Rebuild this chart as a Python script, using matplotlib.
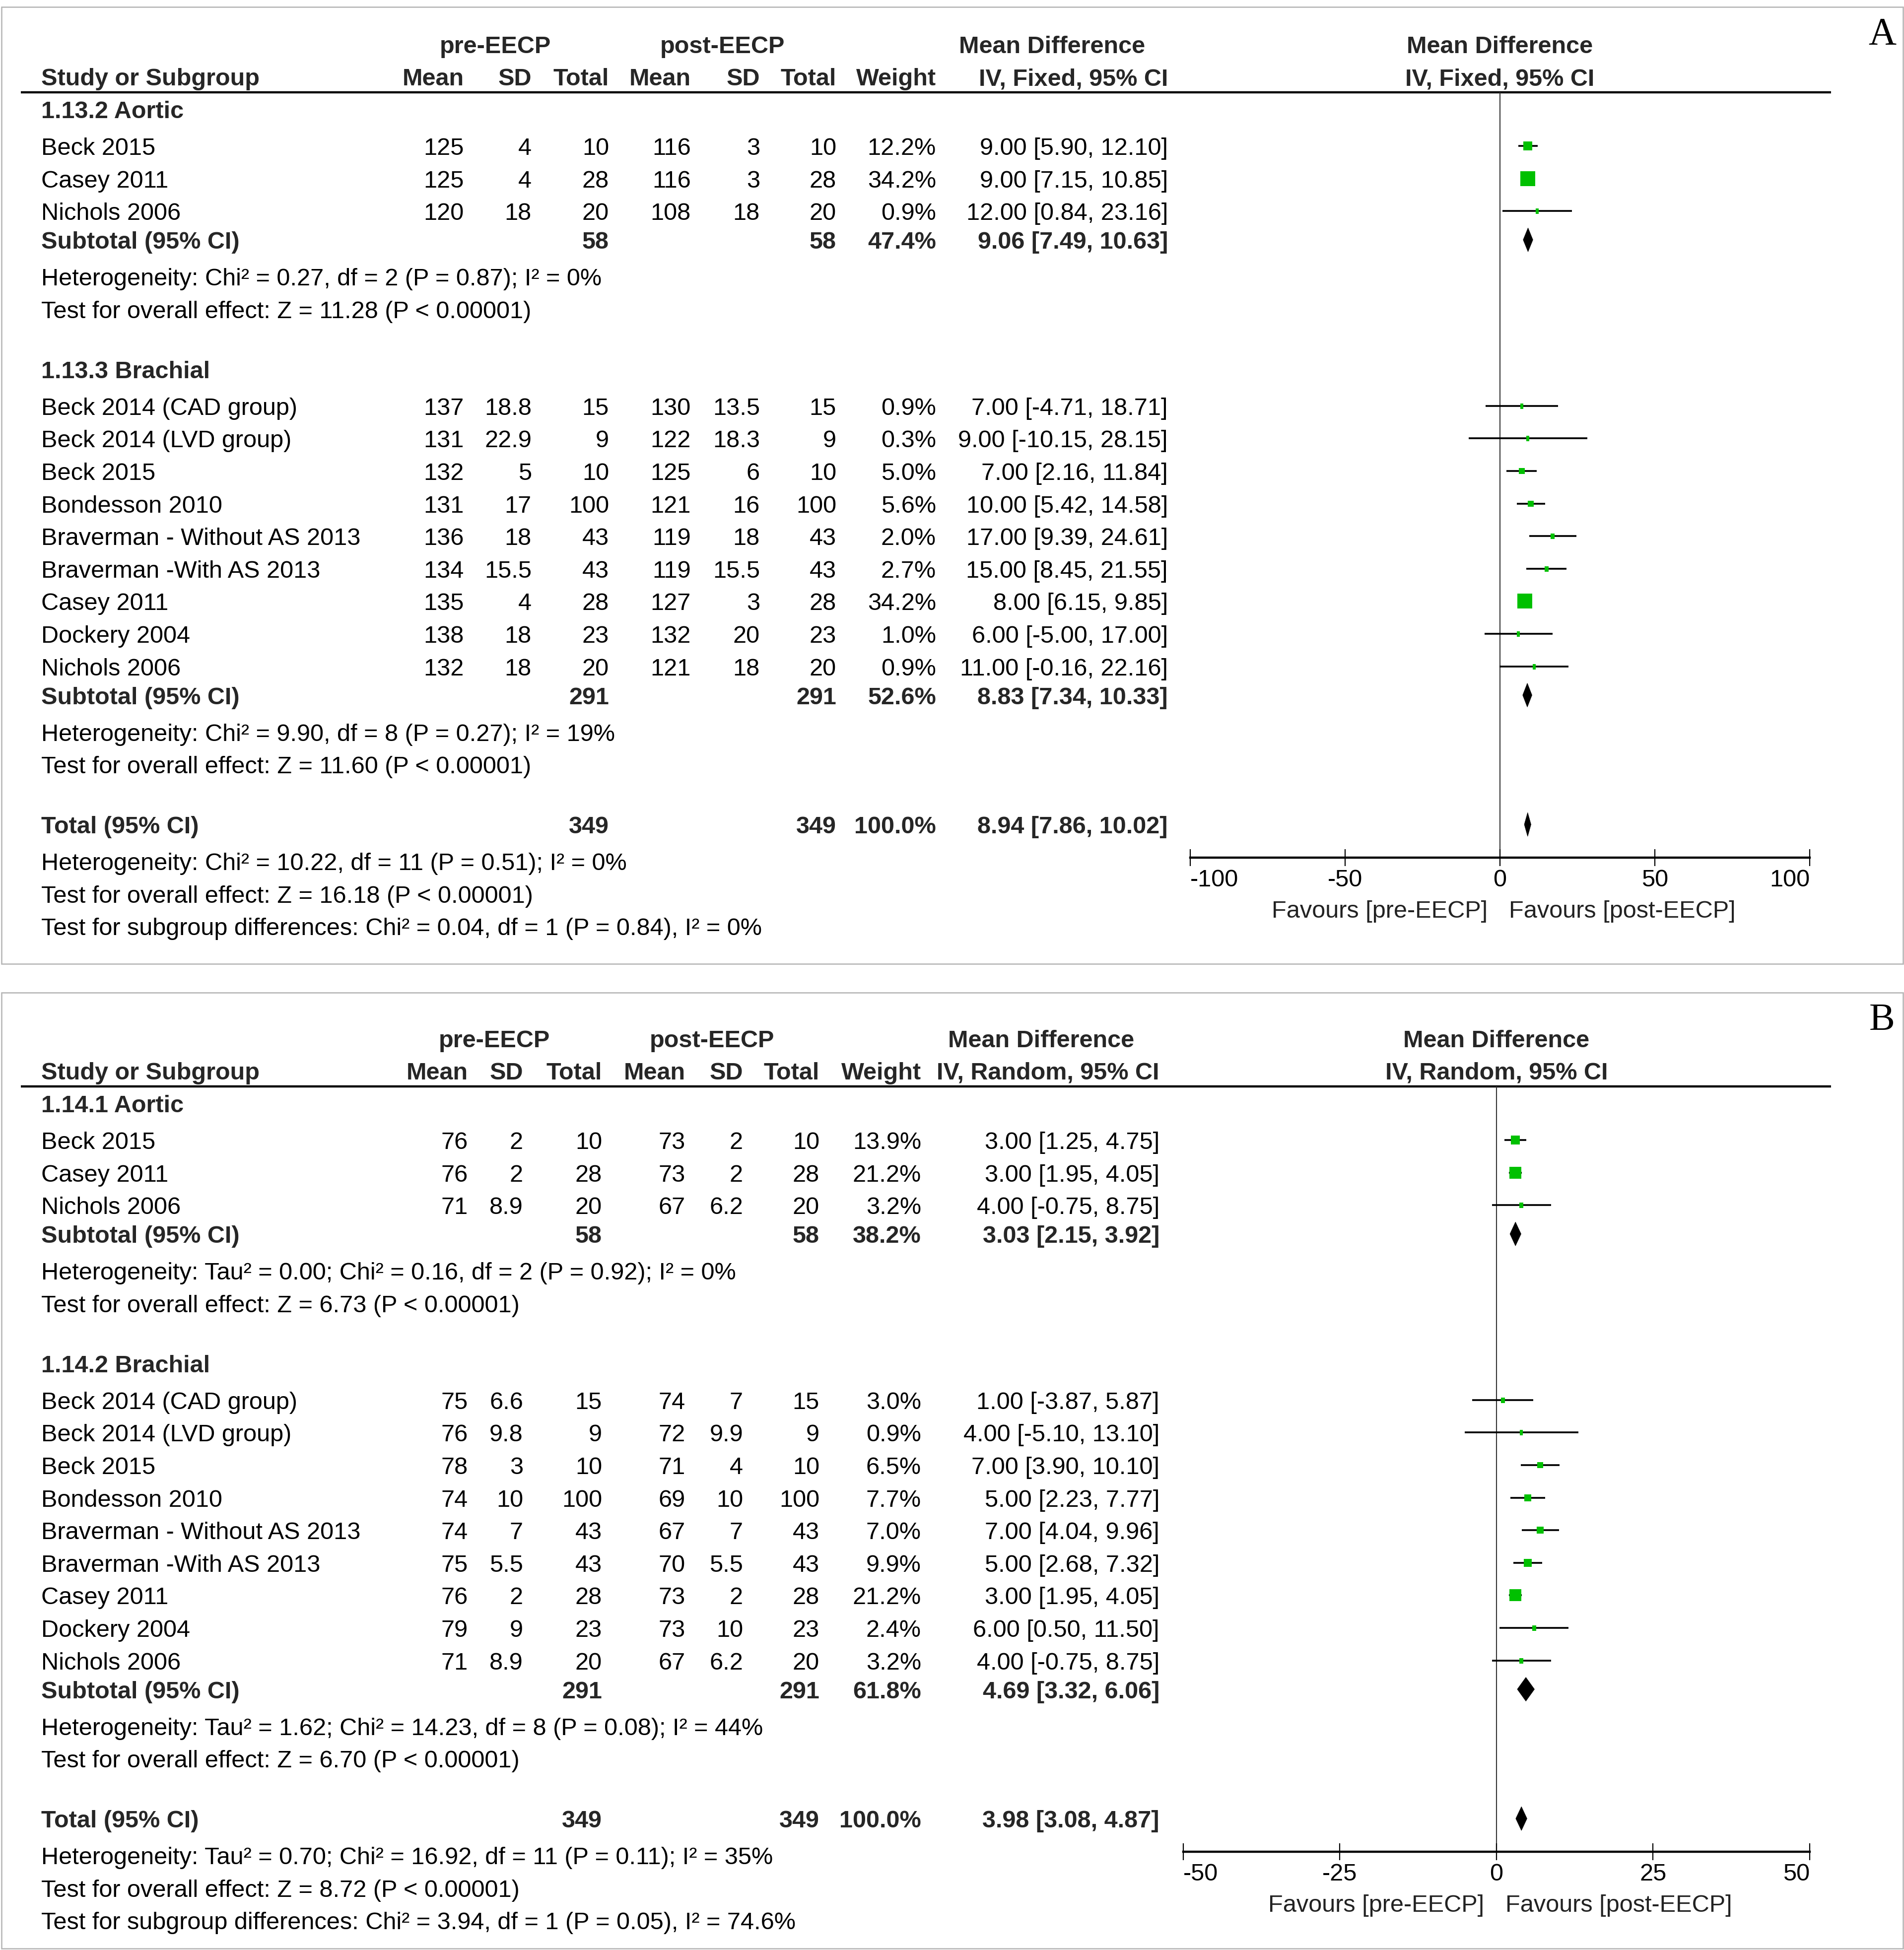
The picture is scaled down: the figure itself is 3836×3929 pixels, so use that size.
import matplotlib
matplotlib.use("Agg")
import matplotlib.pyplot as plt
from matplotlib.patches import Polygon, Rectangle
import numpy as np

plt.rcParams['font.family'] = ['Liberation Sans', 'DejaVu Sans']
plt.rcParams['axes.unicode_minus'] = False

# ======================= DATA =======================
# ---- Panel A (IV, Fixed) ----
A_G1_TITLE = "1.13.2 Aortic"
A_G1_STUDY = ["Beck 2015", "Casey 2011", "Nichols 2006"]
A_G1_PRE_MEAN = [125, 125, 120]
A_G1_PRE_SD = [4, 4, 18]
A_G1_PRE_N = [10, 28, 20]
A_G1_POST_MEAN = [116, 116, 108]
A_G1_POST_SD = [3, 3, 18]
A_G1_POST_N = [10, 28, 20]
A_G1_WEIGHT = [12.2, 34.2, 0.9]
A_G1_MD = [9.00, 9.00, 12.00]
A_G1_LO = [5.90, 7.15, 0.84]
A_G1_HI = [12.10, 10.85, 23.16]
A_G1_SUB = [58, 58, 47.4, 9.06, 7.49, 10.63]
A_G1_HET = "Heterogeneity: Chi\u00b2 = 0.27, df = 2 (P = 0.87); I\u00b2 = 0%"
A_G1_TEST = "Test for overall effect: Z = 11.28 (P < 0.00001)"

A_G2_TITLE = "1.13.3 Brachial"
A_G2_STUDY = ["Beck 2014 (CAD group)", "Beck 2014 (LVD group)", "Beck 2015",
              "Bondesson 2010", "Braverman - Without AS 2013", "Braverman -With AS 2013",
              "Casey 2011", "Dockery 2004", "Nichols 2006"]
A_G2_PRE_MEAN = [137, 131, 132, 131, 136, 134, 135, 138, 132]
A_G2_PRE_SD = [18.8, 22.9, 5, 17, 18, 15.5, 4, 18, 18]
A_G2_PRE_N = [15, 9, 10, 100, 43, 43, 28, 23, 20]
A_G2_POST_MEAN = [130, 122, 125, 121, 119, 119, 127, 132, 121]
A_G2_POST_SD = [13.5, 18.3, 6, 16, 18, 15.5, 3, 20, 18]
A_G2_POST_N = [15, 9, 10, 100, 43, 43, 28, 23, 20]
A_G2_WEIGHT = [0.9, 0.3, 5.0, 5.6, 2.0, 2.7, 34.2, 1.0, 0.9]
A_G2_MD = [7.00, 9.00, 7.00, 10.00, 17.00, 15.00, 8.00, 6.00, 11.00]
A_G2_LO = [-4.71, -10.15, 2.16, 5.42, 9.39, 8.45, 6.15, -5.00, -0.16]
A_G2_HI = [18.71, 28.15, 11.84, 14.58, 24.61, 21.55, 9.85, 17.00, 22.16]
A_G2_SUB = [291, 291, 52.6, 8.83, 7.34, 10.33]
A_G2_HET = "Heterogeneity: Chi\u00b2 = 9.90, df = 8 (P = 0.27); I\u00b2 = 19%"
A_G2_TEST = "Test for overall effect: Z = 11.60 (P < 0.00001)"

A_TOTAL = [349, 349, 100.0, 8.94, 7.86, 10.02]
A_TOTAL_LINES = ["Heterogeneity: Chi\u00b2 = 10.22, df = 11 (P = 0.51); I\u00b2 = 0%",
                 "Test for overall effect: Z = 16.18 (P < 0.00001)",
                 "Test for subgroup differences: Chi\u00b2 = 0.04, df = 1 (P = 0.84), I\u00b2 = 0%"]
A_TICKS = [-100, -50, 0, 50, 100]

# ---- Panel B (IV, Random) ----
B_G1_TITLE = "1.14.1 Aortic"
B_G1_STUDY = ["Beck 2015", "Casey 2011", "Nichols 2006"]
B_G1_PRE_MEAN = [76, 76, 71]
B_G1_PRE_SD = [2, 2, 8.9]
B_G1_PRE_N = [10, 28, 20]
B_G1_POST_MEAN = [73, 73, 67]
B_G1_POST_SD = [2, 2, 6.2]
B_G1_POST_N = [10, 28, 20]
B_G1_WEIGHT = [13.9, 21.2, 3.2]
B_G1_MD = [3.00, 3.00, 4.00]
B_G1_LO = [1.25, 1.95, -0.75]
B_G1_HI = [4.75, 4.05, 8.75]
B_G1_SUB = [58, 58, 38.2, 3.03, 2.15, 3.92]
B_G1_HET = "Heterogeneity: Tau\u00b2 = 0.00; Chi\u00b2 = 0.16, df = 2 (P = 0.92); I\u00b2 = 0%"
B_G1_TEST = "Test for overall effect: Z = 6.73 (P < 0.00001)"

B_G2_TITLE = "1.14.2 Brachial"
B_G2_STUDY = ["Beck 2014 (CAD group)", "Beck 2014 (LVD group)", "Beck 2015",
              "Bondesson 2010", "Braverman - Without AS 2013", "Braverman -With AS 2013",
              "Casey 2011", "Dockery 2004", "Nichols 2006"]
B_G2_PRE_MEAN = [75, 76, 78, 74, 74, 75, 76, 79, 71]
B_G2_PRE_SD = [6.6, 9.8, 3, 10, 7, 5.5, 2, 9, 8.9]
B_G2_PRE_N = [15, 9, 10, 100, 43, 43, 28, 23, 20]
B_G2_POST_MEAN = [74, 72, 71, 69, 67, 70, 73, 73, 67]
B_G2_POST_SD = [7, 9.9, 4, 10, 7, 5.5, 2, 10, 6.2]
B_G2_POST_N = [15, 9, 10, 100, 43, 43, 28, 23, 20]
B_G2_WEIGHT = [3.0, 0.9, 6.5, 7.7, 7.0, 9.9, 21.2, 2.4, 3.2]
B_G2_MD = [1.00, 4.00, 7.00, 5.00, 7.00, 5.00, 3.00, 6.00, 4.00]
B_G2_LO = [-3.87, -5.10, 3.90, 2.23, 4.04, 2.68, 1.95, 0.50, -0.75]
B_G2_HI = [5.87, 13.10, 10.10, 7.77, 9.96, 7.32, 4.05, 11.50, 8.75]
B_G2_SUB = [291, 291, 61.8, 4.69, 3.32, 6.06]
B_G2_HET = "Heterogeneity: Tau\u00b2 = 1.62; Chi\u00b2 = 14.23, df = 8 (P = 0.08); I\u00b2 = 44%"
B_G2_TEST = "Test for overall effect: Z = 6.70 (P < 0.00001)"

B_TOTAL = [349, 349, 100.0, 3.98, 3.08, 4.87]
B_TOTAL_LINES = ["Heterogeneity: Tau\u00b2 = 0.70; Chi\u00b2 = 16.92, df = 11 (P = 0.11); I\u00b2 = 35%",
                 "Test for overall effect: Z = 8.72 (P < 0.00001)",
                 "Test for subgroup differences: Chi\u00b2 = 3.94, df = 1 (P = 0.05), I\u00b2 = 74.6%"]
B_TICKS = [-50, -25, 0, 25, 50]

HEAD_COLS = ["Mean", "SD", "Total", "Mean", "SD", "Total", "Weight"]
FAV_LEFT = "Favours [pre-EECP]"
FAV_RIGHT = "Favours [post-EECP]"


def group(title, study, pm, ps, pn, qm, qs, qn, w, md, lo, hi, sub, het, test):
    return dict(title=title, study=study, pm=pm, ps=ps, pn=pn, qm=qm, qs=qs, qn=qn,
                w=w, md=md, lo=lo, hi=hi, sub=sub, het=het, test=test)


A_GROUPS = [group(A_G1_TITLE, A_G1_STUDY, A_G1_PRE_MEAN, A_G1_PRE_SD, A_G1_PRE_N,
                  A_G1_POST_MEAN, A_G1_POST_SD, A_G1_POST_N, A_G1_WEIGHT, A_G1_MD,
                  A_G1_LO, A_G1_HI, A_G1_SUB, A_G1_HET, A_G1_TEST),
            group(A_G2_TITLE, A_G2_STUDY, A_G2_PRE_MEAN, A_G2_PRE_SD, A_G2_PRE_N,
                  A_G2_POST_MEAN, A_G2_POST_SD, A_G2_POST_N, A_G2_WEIGHT, A_G2_MD,
                  A_G2_LO, A_G2_HI, A_G2_SUB, A_G2_HET, A_G2_TEST)]
B_GROUPS = [group(B_G1_TITLE, B_G1_STUDY, B_G1_PRE_MEAN, B_G1_PRE_SD, B_G1_PRE_N,
                  B_G1_POST_MEAN, B_G1_POST_SD, B_G1_POST_N, B_G1_WEIGHT, B_G1_MD,
                  B_G1_LO, B_G1_HI, B_G1_SUB, B_G1_HET, B_G1_TEST),
            group(B_G2_TITLE, B_G2_STUDY, B_G2_PRE_MEAN, B_G2_PRE_SD, B_G2_PRE_N,
                  B_G2_POST_MEAN, B_G2_POST_SD, B_G2_POST_N, B_G2_WEIGHT, B_G2_MD,
                  B_G2_LO, B_G2_HI, B_G2_SUB, B_G2_HET, B_G2_TEST)]

# ======================= LAYOUT / STYLE =======================
W, H, DPI = 3837, 3930, 100
FS = 35
BOLDC = '#262626'
GREEN = '#00c000'
STEP = 65.6

fig = plt.figure(figsize=(W / DPI, H / DPI), dpi=DPI)
bg = fig.add_axes([0, 0, 1, 1])
bg.set_xlim(0, W)
bg.set_ylim(H, 0)
bg.axis('off')


def T(x, y, s, ha='left', bold=False, size=FS, color=None):
    bg.text(x, y + 17, s, ha=ha, va='baseline', fontsize=size,
            fontweight='bold' if bold else 'normal',
            color=color if color else (BOLDC if bold else 'black'))


def fmt(v):
    return '{:g}'.format(v)


def ci(md, lo, hi):
    return '{:.2f} [{:.2f}, {:.2f}]'.format(md, lo, hi)


def draw_panel(off, box, cols, hc, fx, xlim, ticks, method, groups, total, total_lines, letter):
    # frame
    bg.add_patch(Rectangle((3, box[0]), W - 6, box[1] - box[0], fill=False,
                           ec='#b4b4b4', lw=1.8))
    bg.text(3792, box[0] + 74, letter, ha='center', va='baseline',
            fontsize=56, family=['Liberation Serif', 'DejaVu Serif'])
    y_h1, y_h2, y_rule = off + 90, off + 155, off + 187
    T(hc[0], y_h1, "pre-EECP", ha='center', bold=True)
    T(hc[1], y_h1, "post-EECP", ha='center', bold=True)
    T(hc[2], y_h1, "Mean Difference", ha='center', bold=True)
    T(83, y_h2, "Study or Subgroup", bold=True)
    for x, s in zip(cols[:7], HEAD_COLS):
        T(x, y_h2, s, ha='right', bold=True)
    T(cols[7], y_h2, "IV, %s, 95%% CI" % method, ha='right', bold=True)
    bg.plot([42, 3689], [y_rule, y_rule], color='black', lw=3.2, solid_capstyle='butt')

    # rows layout
    rows = []
    y = off + 221
    for gi, g in enumerate(groups):
        if gi > 0:
            y += 121
        rows.append(('group', y, g))
        y += 74
        for i in range(len(g['study'])):
            if i > 0:
                y += STEP
            rows.append(('study', y, (g, i)))
        y += 58
        rows.append(('sub', y, g['sub']))
        y += 74
        rows.append(('text', y, g['het']))
        y += STEP
        rows.append(('text', y, g['test']))
    y += 121
    rows.append(('total', y, total))
    y_total = y
    y += 74
    for k, s in enumerate(total_lines):
        if k > 0:
            y += STEP
        rows.append(('text', y, s))
    y_axis = y_total + 67

    # forest axes: x in data units, y in figure pixels
    ax = fig.add_axes([fx[0] / W, 1 - y_axis / H, (fx[1] - fx[0]) / W, (y_axis - y_rule) / H])
    ax.set_xlim(xlim)
    ax.set_ylim(y_axis, y_rule)
    ax.patch.set_alpha(0)
    for s in ['top', 'left', 'right']:
        ax.spines[s].set_visible(False)
    ax.spines['bottom'].set_linewidth(3.2)
    ax.set_yticks([])
    ax.set_xticks(ticks)
    ax.set_xticklabels([str(t) for t in ticks])
    ax.tick_params(axis='x', direction='inout', length=25, width=1.6, labelsize=FS, pad=3)
    labs = ax.get_xticklabels()
    labs[0].set_ha('left')
    labs[-1].set_ha('right')
    ax.axvline(0, color='#333333', lw=1.5, zorder=1)
    T((fx[0] + fx[1]) / 2, y_h1, "Mean Difference", ha='center', bold=True)
    T((fx[0] + fx[1]) / 2, y_h2, "IV, %s, 95%% CI" % method, ha='center', bold=True)
    ax.annotate(FAV_LEFT, xy=(0, y_axis + 103 + 17), xytext=(-18, 0), textcoords='offset points',
                ha='right', va='baseline', fontsize=FS, color='#222222', annotation_clip=False)
    ax.annotate(FAV_RIGHT, xy=(0, y_axis + 103 + 17), xytext=(13, 0), textcoords='offset points',
                ha='left', va='baseline', fontsize=FS, color='#222222', annotation_clip=False)

    for kind, yy, p in rows:
        if kind == 'group':
            T(83, yy, p['title'], bold=True)
        elif kind == 'study':
            g, i = p
            T(83, yy, g['study'][i])
            vals = [g['pm'][i], g['ps'][i], g['pn'][i], g['qm'][i], g['qs'][i], g['qn'][i]]
            for x, v in zip(cols[:6], vals):
                T(x, yy, fmt(v), ha='right')
            T(cols[6], yy, '{:.1f}%'.format(g['w'][i]), ha='right')
            T(cols[7], yy, ci(g['md'][i], g['lo'][i], g['hi'][i]), ha='right')
            ax.plot([g['lo'][i], g['hi'][i]], [yy, yy], color='black', lw=2.6,
                    solid_capstyle='butt', zorder=2, clip_on=False)
            side = 5.0 * np.sqrt(g['w'][i])
            wpx, hpx = max(side, 6.0), max(side, 11.0)
            verts = [(-wpx, -hpx), (wpx, -hpx), (wpx, hpx), (-wpx, hpx), (-wpx, -hpx)]
            ax.plot([g['md'][i]], [yy], marker=verts, markersize=max(wpx, hpx) * 0.72,
                    color=GREEN, mew=0, zorder=3, clip_on=False)
        elif kind in ('sub', 'total'):
            T(83, yy, "Subtotal (95% CI)" if kind == 'sub' else "Total (95% CI)", bold=True)
            T(cols[2], yy, fmt(p[0]), ha='right', bold=True)
            T(cols[5], yy, fmt(p[1]), ha='right', bold=True)
            T(cols[6], yy, '{:.1f}%'.format(p[2]), ha='right', bold=True)
            T(cols[7], yy, ci(p[3], p[4], p[5]), ha='right', bold=True)
            hh = 24
            ax.add_patch(Polygon([(p[4], yy), (p[3], yy - hh), (p[5], yy), (p[3], yy + hh)],
                                 closed=True, fc='black', ec='black', lw=0.5, zorder=3))
        else:
            T(83, yy, p)


draw_panel(0, (15, 1943),
           [935, 1071, 1227, 1392, 1531, 1685, 1886, 2353],
           [998, 1456, 2120], (2398, 3646), (-100, 100), A_TICKS, "Fixed",
           A_GROUPS, A_TOTAL, A_TOTAL_LINES, "A")
draw_panel(2003, (2001, 3927),
           [943, 1054, 1213, 1381, 1497, 1651, 1856, 2336],
           [996, 1435, 2098], (2384, 3646), (-50, 50), B_TICKS, "Random",
           B_GROUPS, B_TOTAL, B_TOTAL_LINES, "B")

fig.savefig("out.png", dpi=DPI)
